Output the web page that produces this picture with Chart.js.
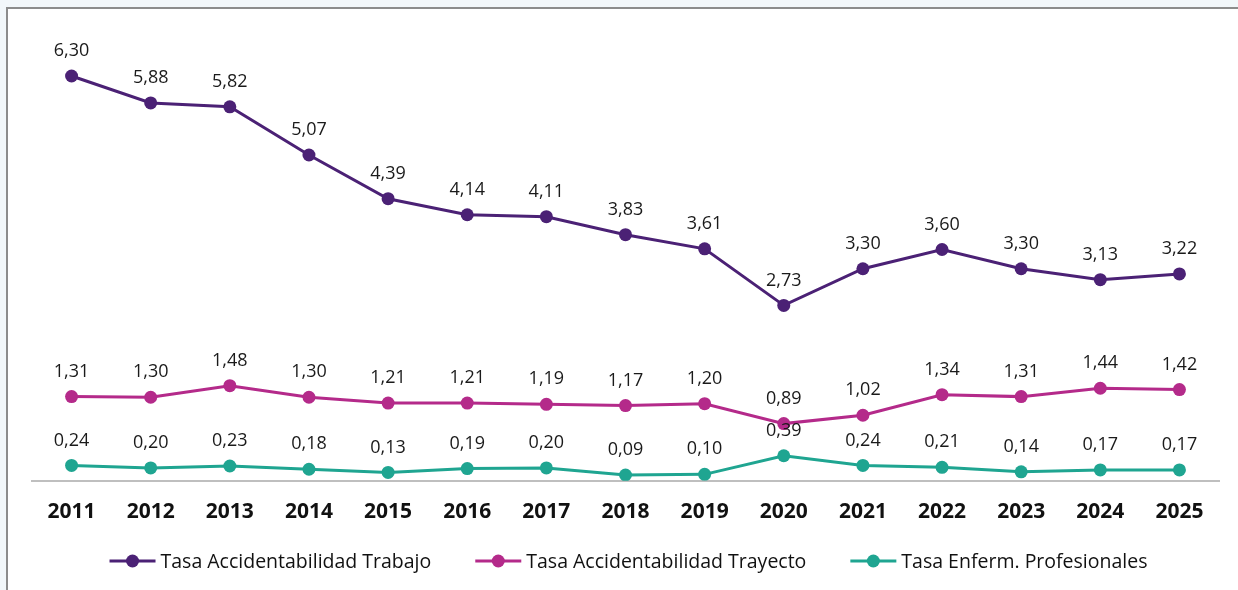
<!DOCTYPE html>
<html>
<head>
<meta charset="utf-8">
<script src="https://cdn.jsdelivr.net/npm/chart.js@4.4.1/dist/chart.umd.min.js"></script>
<style>
  html, body { margin: 0; padding: 0; background: #f2f7fa; }
  #frame {
    position: absolute; left: 6px; top: 7px; width: 1232px; height: 583px;
    background: #fff; border-left: 2px solid #8c8c8c; border-top: 2px solid #8c8c8c;
    box-sizing: border-box;
  }
  #wrap { position: absolute; left: 0; top: 0; width: 1238px; height: 590px; }
</style>
</head>
<body>
<div id="frame"></div>
<div id="wrap"><canvas id="chart" width="1238" height="590"></canvas></div>
<script>
const years = ['2011','2012','2013','2014','2015','2016','2017','2018','2019','2020','2021','2022','2023','2024','2025'];
const tasaTrabajo = [6.30, 5.88, 5.82, 5.07, 4.39, 4.14, 4.11, 3.83, 3.61, 2.73, 3.30, 3.60, 3.30, 3.13, 3.22];
const tasaTrayecto = [1.31, 1.30, 1.48, 1.30, 1.21, 1.21, 1.19, 1.17, 1.20, 0.89, 1.02, 1.34, 1.31, 1.44, 1.42];
const tasaEnferm = [0.24, 0.20, 0.23, 0.18, 0.13, 0.19, 0.20, 0.09, 0.10, 0.39, 0.24, 0.21, 0.14, 0.17, 0.17];

const FONT = '"Open Sans", Lato, sans-serif';

// value labels above each point, with decimal comma
const valueLabels = {
  id: 'valueLabels',
  afterDatasetsDraw(chart) {
    const ctx = chart.ctx;
    ctx.save();
    ctx.font = '18px ' + FONT;
    ctx.fillStyle = '#1a1a1a';
    ctx.textAlign = 'center';
    ctx.textBaseline = 'bottom';
    chart.data.datasets.forEach((ds, i) => {
      chart.getDatasetMeta(i).data.forEach((pt, j) => {
        ctx.fillText(ds.data[j].toFixed(2).replace('.', ','), pt.x, pt.y - 16);
      });
    });
    ctx.restore();
  }
};

// legend drawn by hand: line with a dot, then the name; wider gaps than the built-in one
const lineLegend = {
  id: 'lineLegend',
  afterDraw(chart) {
    const ctx = chart.ctx;
    const y = 561, markW = 46, textGap = 5, itemGap = 44;
    ctx.save();
    ctx.font = '19.5px ' + FONT;
    const items = chart.data.datasets.map(d => ({ color: d.borderColor, text: d.label, w: ctx.measureText(d.label).width }));
    const total = items.reduce((s, it) => s + markW + textGap + it.w, 0) + itemGap * (items.length - 1);
    let x = (chart.chartArea.left + chart.chartArea.right) / 2 - total / 2 + 3;
    items.forEach(it => {
      ctx.strokeStyle = it.color; ctx.lineWidth = 3;
      ctx.beginPath(); ctx.moveTo(x, y); ctx.lineTo(x + markW, y); ctx.stroke();
      ctx.fillStyle = it.color;
      ctx.beginPath(); ctx.arc(x + markW / 2, y, 6.5, 0, Math.PI * 2); ctx.fill();
      ctx.fillStyle = '#111';
      ctx.textAlign = 'left'; ctx.textBaseline = 'middle';
      ctx.fillText(it.text, x + markW + textGap, y + 1);
      x += markW + textGap + it.w + itemGap;
    });
    ctx.restore();
  }
};

function series(label, data, color) {
  return {
    label: label,
    data: data,
    borderColor: color,
    backgroundColor: color,
    borderWidth: 3,
    pointRadius: 6.5,
    pointHoverRadius: 6.5,
    pointBorderWidth: 0,
    tension: 0
  };
}

const datasets = [
  series('Tasa Accidentabilidad Trabajo', tasaTrabajo, '#4b2175'),
  series('Tasa Accidentabilidad Trayecto', tasaTrayecto, '#b42a8a'),
  series('Tasa Enferm. Profesionales', tasaEnferm, '#1fa591')
];

new Chart(document.getElementById('chart'), {
  type: 'line',
  data: { labels: years, datasets: datasets },
  plugins: [valueLabels, lineLegend],
  options: {
    responsive: false,
    animation: false,
    devicePixelRatio: 1,
    layout: { padding: { left: 32, right: 19, top: 31, bottom: 46 } },
    scales: {
      x: {
        offset: true,
        grid: { display: false, drawTicks: false },
        border: { display: true, color: '#bfbfbf', width: 2 },
        ticks: { color: '#111', font: { family: FONT, size: 21, weight: 'bold' }, padding: 19, maxRotation: 0, autoSkip: false }
      },
      y: {
        display: false,
        min: 0,
        max: 7
      }
    },
    plugins: {
      tooltip: { enabled: false },
      legend: { display: false }
    }
  }
});
</script>
</body>
</html>
